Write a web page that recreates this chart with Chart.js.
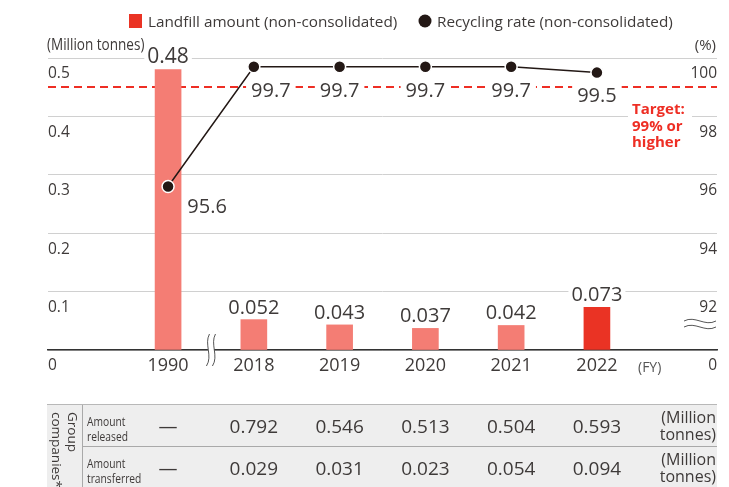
<!DOCTYPE html>
<html>
<head>
<meta charset="utf-8">
<script src="https://cdn.jsdelivr.net/npm/chart.js@4.4.1/dist/chart.umd.min.js"></script>
<style>
  html, body { margin: 0; padding: 0; background: #fff; }
  #wrap { width: 729px; height: 487px; }
</style>
</head>
<body>
<div id="wrap"><canvas id="chart" width="729" height="487"></canvas></div>
<script>
// Fiscal years on the horizontal axis
const years = ['1990', '2018', '2019', '2020', '2021', '2022'];
// Landfill amount, non-consolidated (million tonnes)
const landfill = [0.48, 0.052, 0.043, 0.037, 0.042, 0.073];
// Recycling rate, non-consolidated (%)
const recycling = [95.6, 99.7, 99.7, 99.7, 99.7, 99.5];
// Recycling rate target (%)
const target = 99;
// Group companies (million tonnes); null = no figure
const released = [null, 0.792, 0.546, 0.513, 0.504, 0.593];
const transferred = [null, 0.029, 0.031, 0.023, 0.054, 0.094];
// Axis ranges and steps
const landfillAxis = { min: 0, max: 0.5, step: 0.1 };
const rateAxis = { min: 90, max: 100, step: 2 };

const FONT = '"Open Sans", "Noto Sans", sans-serif';
const TXT = '#3e3a39';
const INK = '#231815';
const RED = '#ea3324';
const SALMON = '#f47d74';
const TARGET_RED = '#ee2e24';

Chart.defaults.font.family = FONT;
Chart.defaults.color = TXT;

function textWithBg(ctx, text, cx, baseline, font, color, padX, asc, desc) {
  ctx.font = font;
  const w = ctx.measureText(text).width;
  ctx.fillStyle = '#fff';
  ctx.fillRect(cx - w / 2 - padX, baseline - asc, w + padX * 2, asc + desc);
  ctx.fillStyle = color;
  ctx.textAlign = 'center';
  ctx.textBaseline = 'alphabetic';
  ctx.fillText(text, cx, baseline);
}

// Condensed text: the regular face squeezed horizontally
function narrowText(ctx, text, x, y, size, squeeze, align) {
  ctx.save();
  ctx.font = `${size}px ${FONT}`;
  ctx.textAlign = align;
  ctx.translate(x, y);
  ctx.scale(squeeze, 1);
  ctx.fillText(text, 0, 0);
  ctx.restore();
}

// Dashed target line across the plot, under the bars
const targetLine = {
  id: 'targetLine',
  beforeDatasetsDraw(chart) {
    const { ctx, chartArea: a, scales } = chart;
    const y = Math.round(scales.y2.getPixelForValue(target));
    ctx.save();
    ctx.strokeStyle = TARGET_RED;
    ctx.lineWidth = 2;
    ctx.setLineDash([8, 5]);
    ctx.beginPath();
    ctx.moveTo(a.left, y);
    ctx.lineTo(a.right, y);
    ctx.stroke();
    ctx.restore();
  }
};

// Value labels for bars and line points
const valueLabels = {
  id: 'valueLabels',
  afterDatasetsDraw(chart) {
    const ctx = chart.ctx;
    ctx.save();
    const bars = chart.getDatasetMeta(1).data;
    bars.forEach((b, i) => {
      const first = i === 0;
      textWithBg(ctx, String(landfill[i]), b.x, b.y - (first ? 7 : 6),
        `${first ? 21 : 20}px ${FONT}`, TXT, 3, 17, 3);
    });
    const pts = chart.getDatasetMeta(0).data;
    // label placement relative to each point: [dx, baseline dy]
    const place = [[39, 26.5], [17, 30], [0, 30], [0, 30], [0, 30], [0, 29.5]];
    pts.forEach((p, i) => {
      const [dx, dy] = place[i];
      textWithBg(ctx, String(recycling[i]), p.x + dx, p.y + dy,
        `20px ${FONT}`, TXT, 5, 17, 3);
    });
    ctx.restore();
  }
};

// Legend, axis units, target note, axis breaks and the group table
const decorations = {
  id: 'decorations',
  afterDraw(chart) {
    const { ctx, chartArea: a, scales } = chart;
    ctx.save();
    ctx.textBaseline = 'alphabetic';

    // legend
    ctx.fillStyle = RED;
    ctx.fillRect(129, 14, 13, 14);
    ctx.fillStyle = TXT;
    ctx.font = `15.3px ${FONT}`;
    ctx.textAlign = 'left';
    ctx.fillText('Landfill amount (non-consolidated)', 148, 26.5);
    ctx.fillStyle = INK;
    ctx.beginPath();
    ctx.arc(425, 21, 6.5, 0, Math.PI * 2);
    ctx.fill();
    ctx.fillStyle = TXT;
    ctx.fillText('Recycling rate (non-consolidated)', 437, 26.5);

    // axis units
    narrowText(ctx, '(Million tonnes)', 47, 50, 16.5, 0.82, 'left');
    ctx.font = `15px ${FONT}`;
    ctx.textAlign = 'right';
    ctx.fillText('(%)', 716, 50);
    ctx.textAlign = 'left';
    ctx.fillStyle = '#555';
    ctx.font = `14px ${FONT}`;
    ctx.fillText('(FY)', 638, 372);

    // target note
    ctx.fillStyle = '#fff';
    ctx.fillRect(628, 100, 64, 52);
    ctx.fillStyle = TARGET_RED;
    ctx.font = `bold 15px ${FONT}`;
    ctx.fillText('Target:', 632, 114);
    ctx.fillText('99% or', 632, 130.7);
    ctx.fillText('higher', 632, 147.3);

    // break on the horizontal axis between 1990 and 2018
    const bx = (scales.x.getPixelForValue(0) + scales.x.getPixelForValue(1)) / 2;
    ctx.fillStyle = '#fff';
    ctx.fillRect(bx - 3, a.bottom - 3, 6, 6);
    ctx.strokeStyle = '#555';
    ctx.lineWidth = 1;
    [bx - 3, bx + 3].forEach(x0 => {
      ctx.beginPath();
      ctx.moveTo(x0 + 1.5, a.bottom - 16);
      ctx.bezierCurveTo(x0 - 4, a.bottom - 6, x0 + 5, a.bottom + 6, x0 - 1.5, a.bottom + 16);
      ctx.stroke();
    });

    // break on the rate axis between 92 and 0
    [321, 327].forEach(y0 => {
      ctx.beginPath();
      ctx.moveTo(684, y0);
      ctx.bezierCurveTo(695, y0 - 6, 705, y0 + 6, 716, y0);
      ctx.stroke();
    });

    // group companies table
    const top = 405, mid = 446, bot = 487, left = 47, right = 717, sep = 83;
    ctx.fillStyle = '#eeeeee';
    ctx.fillRect(left, top, right - left, bot - top);
    ctx.strokeStyle = '#b8b8b8';
    ctx.beginPath();
    ctx.moveTo(left, top - 0.5); ctx.lineTo(right, top - 0.5);
    ctx.stroke();
    ctx.strokeStyle = '#a9a9a9';
    ctx.beginPath();
    ctx.moveTo(sep, mid + 0.5); ctx.lineTo(right, mid + 0.5);
    ctx.moveTo(sep - 0.5, top); ctx.lineTo(sep - 0.5, bot);
    ctx.stroke();

    ctx.fillStyle = TXT;
    ctx.font = `13.5px ${FONT}`;
    ctx.textBaseline = 'middle';
    [['Group', 71.5], ['companies*', 55.5]].forEach(([t, x]) => {
      ctx.save();
      ctx.translate(x, 412);
      ctx.rotate(Math.PI / 2);
      ctx.textAlign = 'left';
      ctx.fillText(t, 0, 0);
      ctx.restore();
    });
    ctx.textBaseline = 'alphabetic';

    narrowText(ctx, 'Amount', 87, 426, 13.5, 0.76, 'left');
    narrowText(ctx, 'released', 87, 441, 13.5, 0.76, 'left');
    narrowText(ctx, 'Amount', 87, 467.5, 13.5, 0.76, 'left');
    narrowText(ctx, 'transferred', 87, 482.5, 13.5, 0.76, 'left');

    ctx.font = `19px ${FONT}`;
    ctx.textAlign = 'center';
    const rows = [[released, 433], [transferred, 475]];
    rows.forEach(([vals, base]) => {
      vals.forEach((v, i) => {
        const x = scales.x.getPixelForValue(i);
        ctx.fillText(v === null ? '—' : v.toFixed(3), x, base);
      });
    });

    ctx.font = `16px ${FONT}`;
    ctx.textAlign = 'right';
    ctx.fillText('(Million', 716, 423);
    ctx.fillText('tonnes)', 716, 440);
    ctx.fillText('(Million', 716, 465);
    ctx.fillText('tonnes)', 716, 482);
    ctx.restore();
  }
};

new Chart(document.getElementById('chart'), {
  data: {
    datasets: [
      {
        type: 'line',
        label: 'Recycling rate (non-consolidated)',
        yAxisID: 'y2',
        data: recycling.map((v, i) => ({ x: i, y: v })),
        borderColor: INK,
        borderWidth: 1.5,
        pointRadius: 6,
        pointBackgroundColor: INK,
        pointBorderColor: '#fff',
        pointBorderWidth: 1.5,
        order: 0
      },
      {
        type: 'bar',
        label: 'Landfill amount (non-consolidated)',
        yAxisID: 'y',
        data: landfill.map((v, i) => ({ x: i, y: v })),
        backgroundColor: landfill.map((_, i) => i === landfill.length - 1 ? RED : SALMON),
        barThickness: 26,
        order: 1
      }
    ]
  },
  options: {
    responsive: false,
    animation: false,
    layout: { padding: { left: 48, right: 12, top: 58, bottom: 107 } },
    plugins: { legend: { display: false }, tooltip: { enabled: false } },
    scales: {
      x: {
        type: 'linear',
        offset: false,
        min: -1.4,
        max: 6.4,
        afterBuildTicks: s => { s.ticks = years.map((_, i) => ({ value: i })); },
        afterFit: s => { s.height = 30; },
        grid: { display: false, drawTicks: false, offset: false },
        border: { color: '#333', width: 1.5 },
        ticks: {
          autoSkip: false,
          maxRotation: 0,
          padding: 5,
          font: { size: 18 },
          color: TXT,
          callback: v => years[v]
        }
      },
      y: {
        position: 'left',
        min: landfillAxis.min,
        max: landfillAxis.max,
        afterFit: s => { s.width = 0; },
        grid: { color: '#d0d0d0', lineWidth: 1, drawTicks: false },
        border: { display: false },
        ticks: {
          stepSize: landfillAxis.step,
          mirror: true,
          padding: 0,
          labelOffset: 16,
          font: { size: 15.5 },
          color: TXT,
          callback: v => v === 0 ? '0' : v.toFixed(1)
        }
      },
      y2: {
        position: 'right',
        min: rateAxis.min,
        max: rateAxis.max,
        afterFit: s => { s.width = 0; },
        grid: { display: false, drawTicks: false },
        border: { display: false },
        ticks: {
          stepSize: rateAxis.step,
          mirror: true,
          padding: 0,
          labelOffset: 16,
          font: { size: 15.5 },
          color: TXT,
          callback: v => v === rateAxis.min ? '0' : String(v)
        }
      }
    }
  },
  plugins: [targetLine, valueLabels, decorations]
});
</script>
</body>
</html>
